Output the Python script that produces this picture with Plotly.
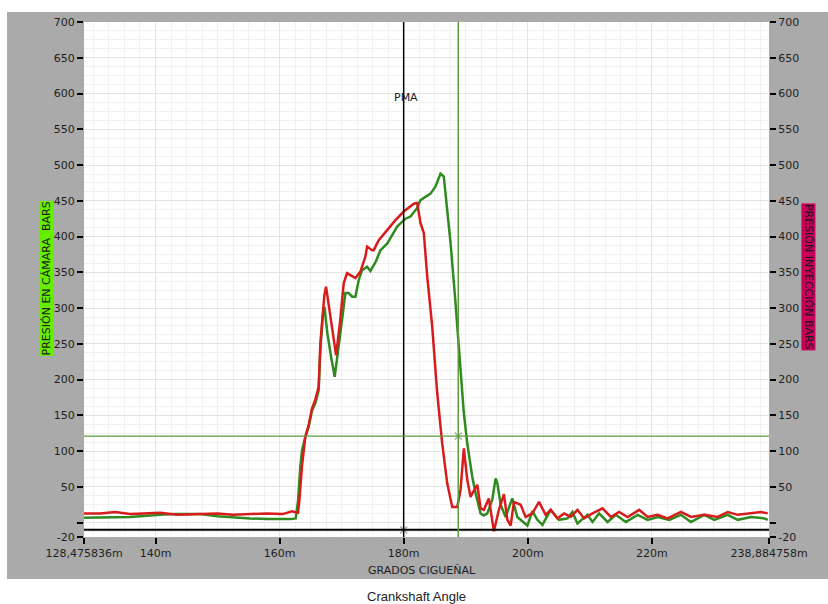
import plotly.graph_objects as go

# ---------------- data (x in "m" units of crank angle, y in bars) ----------------
red_x = [128.48, 131.06, 133.5, 135.90, 138.0, 140.74, 143.5, 147.20, 150.0, 152.5, 155.27, 158.0, 160.5, 162.0, 162.97,
         163.18, 163.62, 164.15, 164.68, 165.23, 165.76, 166.30, 166.57, 166.94, 167.22, 167.49, 168.00, 168.50, 169.11,
         169.80, 170.34, 170.88, 171.69, 172.22, 173.03, 173.83, 174.11, 174.92, 175.17, 175.98, 177.34, 178.68, 180.02,
         181.63, 182.18, 182.71, 183.25, 183.80, 184.60, 185.41, 186.21, 187.02, 187.83, 188.64, 189.17, 189.70, 190.25,
         190.78, 191.32, 191.87, 192.40, 192.93, 193.73, 194.54, 195.35, 196.16, 196.71, 197.24, 197.77, 198.32, 198.86,
         199.66, 200.75, 201.81, 202.89, 203.70, 204.78, 205.85, 206.93, 208.01, 209.08, 210.43, 212.05, 213.39, 214.73,
         216.09, 217.96, 219.32, 220.93, 222.55, 224.69, 226.31, 228.45, 230.62, 232.23, 233.85, 236.00, 237.61, 238.68]
red_y = [13, 13, 15, 12, 13, 14, 11, 12, 13, 11, 12, 13, 12, 16, 14,
         30, 80, 120, 136, 160, 172, 190, 250, 295, 318, 330, 300, 265, 234,
         285, 335, 349, 345, 342, 351, 372, 386, 381, 381, 395, 409, 423, 435,
         446, 447, 419, 405, 344, 274, 181, 111, 55, 22, 22, 46, 104, 60,
         36, 45, 53, 20, 18, 34, -12, 18, 40, 4, -4, 29, 27, 25,
         8, 13, 29, 11, 18, 6, 13, 8, 18, 6, 13, 20, 8, 15,
         8, 18, 8, 11, 6, 15, 8, 11, 8, 15, 11, 13, 15, 13]

green_x = [128.48, 131.06, 133.0, 135.90, 140.74, 143.0, 147.20, 150.0, 155.27, 158.0, 161.73, 162.60, 162.97,
           163.07, 163.34, 163.62, 164.15, 164.68, 165.23, 165.76, 166.30, 166.57, 166.94, 167.22, 167.70, 168.30,
           168.88, 169.80, 170.61, 171.14, 171.69, 172.22, 172.75, 173.30, 174.11, 174.64, 175.50, 176.26, 177.34,
           178.95, 180.29, 181.10, 182.18, 182.71, 184.33, 185.14, 185.94, 186.47, 186.75, 187.56, 188.36, 189.01,
           189.70, 190.25, 191.06, 191.60, 191.87, 192.40, 192.90, 193.48, 194.28, 194.82, 195.10, 195.63, 196.43,
           197.51, 198.32, 198.86, 199.94, 200.75, 201.55, 202.36, 203.70, 205.04, 206.40, 207.20, 208.01, 209.63,
           210.43, 211.50, 212.86, 214.20, 215.81, 217.70, 219.32, 220.93, 222.80, 224.69, 226.31, 228.45, 230.07,
           232.23, 233.85, 236.00, 238.14, 238.68]
green_y = [7, 7, 8, 8, 11, 12, 12, 9, 6, 5, 5, 6, 30,
           46, 78, 101, 120, 134, 157, 167, 185, 241, 288, 302, 265, 232,
           204, 265, 321, 321, 316, 316, 339, 353, 358, 352, 365, 381, 390,
           414, 425, 428, 440, 451, 460, 470, 488, 484, 461, 391, 307, 227,
           153, 111, 64, 41, 32, 13, 10, 13, 32, 62, 55, 25, 8,
           34, 8, 4, -4, 16, 4, -3, 18, 4, 6, 15, -1, 11,
           1, 13, 1, 11, 1, 11, 4, 8, 4, 11, 1, 11, 4,
           11, 4, 8, 6, 4]

x_range = [128.475836, 238.884758]
x_tickvals = [128.475836, 140, 160, 180, 200, 220, 238.884758]
x_ticktext = ["128,475836m", "140m", "160m", "180m", "200m", "220m", "238,884758m"]

y_range = [-20, 700]
y_tickvals = [-20, 0, 50, 100, 150, 200, 250, 300, 350, 400, 450, 500, 550, 600, 650, 700]
y_ticktext = ["-20", "", "50", "100", "150", "200", "250", "300", "350", "400", "450", "500",
              "550", "600", "650", "700"]

pma_x = 180.0          # black cursor (PMA)
pma_y = -10.0
cursor2_x = 188.8      # green cursor
cursor2_y = 121.0

# ---------------- figure ----------------
fig = go.Figure()

fig.add_trace(go.Scatter(x=green_x, y=green_y, mode="lines",
                         line=dict(color="#2f8a1f", width=2.5), showlegend=False, yaxis="y"))
fig.add_trace(go.Scatter(x=red_x, y=red_y, mode="lines",
                         line=dict(color="#d81c1c", width=2.5), showlegend=False, yaxis="y2"))

# cursors
fig.add_shape(type="line", xref="x", yref="paper", x0=pma_x, x1=pma_x, y0=0, y1=1,
              line=dict(color="black", width=1.5))
fig.add_shape(type="line", xref="paper", yref="y", x0=0, x1=1, y0=pma_y, y1=pma_y,
              line=dict(color="black", width=2))
fig.add_shape(type="line", xref="x", yref="paper", x0=cursor2_x, x1=cursor2_x, y0=0, y1=1,
              line=dict(color="#5c9c3c", width=1.5))
fig.add_shape(type="line", xref="paper", yref="y", x0=0, x1=1, y0=cursor2_y, y1=cursor2_y,
              line=dict(color="#5c9c3c", width=1.2))
fig.add_trace(go.Scatter(x=[pma_x, cursor2_x], y=[pma_y, cursor2_y], mode="markers",
                         marker=dict(symbol="x-thin-open", size=7, color="#b0b0b0",
                                     line=dict(color="#b0b0b0", width=1.5)),
                         showlegend=False, hoverinfo="skip"))

# background panel
fig.add_shape(type="rect", xref="paper", yref="paper", x0=-0.1124, x1=1.09, y0=-0.0816, y1=1.0194,
              fillcolor="#aaaaaa", line=dict(width=0), layer="below")
fig.add_shape(type="rect", xref="paper", yref="paper", x0=0, x1=1, y0=0, y1=1,
              fillcolor="white", line=dict(width=0), layer="below")

tickfont = dict(family="DejaVu Sans", size=11, color="#1e1e1e")
fig.update_layout(
    template="none",
    width=828, height=604, autosize=False,
    margin=dict(l=84, r=59, t=22, b=67, autoexpand=False),
    paper_bgcolor="white", plot_bgcolor="white",
    xaxis=dict(range=x_range, tickvals=x_tickvals, ticktext=x_ticktext, ticks="outside",
               ticklen=6, tickwidth=1.5, tickcolor="black", tickfont=tickfont, automargin=False,
               showgrid=True, gridcolor="#e4e4e4", gridwidth=1, zeroline=False, showline=False,
               minor=dict(dtick=2.5, tick0=0, showgrid=True, gridcolor="#f1f1f1", ticks="")),
    yaxis=dict(range=y_range, tickvals=y_tickvals, ticktext=y_ticktext, ticks="outside",
               ticklen=6, tickwidth=1.5, tickcolor="black", tickfont=tickfont, automargin=False,
               showgrid=True, gridcolor="#e4e4e4", gridwidth=1, zeroline=False, showline=False,
               minor=dict(dtick=12.5, tick0=0, showgrid=True, gridcolor="#f1f1f1", ticks="")),
    yaxis2=dict(range=y_range, tickvals=y_tickvals, ticktext=y_ticktext, ticks="outside",
                ticklen=6, tickwidth=1.5, tickcolor="black", tickfont=tickfont, automargin=False,
                overlaying="y", side="right", showgrid=False, zeroline=False, showline=False),
)

fig.add_annotation(text="PMA", x=pma_x + 0.3, y=595, xref="x", yref="y", showarrow=False,
                   font=dict(family="DejaVu Sans", size=11, color="#1a1a1a"))
fig.add_annotation(text="GRADOS CIGUEÑAL", x=0.4934, y=-0.0641, xref="paper", yref="paper",
                   showarrow=False, yanchor="middle",
                   font=dict(family="DejaVu Sans", size=11, color="#1e1e1e"))
fig.add_annotation(text="Crankshaft Angle", x=0.4847, y=-0.1165, xref="paper", yref="paper",
                   showarrow=False, yanchor="middle",
                   font=dict(family="Liberation Sans", size=13, color="#222222"))
fig.add_annotation(text="PRESIÓN EN CÁMARA  BARS", x=-0.0657, y=0.503, xref="paper", yref="paper",
                   showarrow=False, textangle=-90, bgcolor="#66ee00", borderpad=0,
                   font=dict(family="DejaVu Sans", size=11, color="#1a1a1a"))
fig.add_annotation(text="PRESIÓN INYECCIÓN BARS", x=1.0679, y=0.505, xref="paper", yref="paper",
                   showarrow=False, textangle=90, bgcolor="#c8005a", borderpad=0,
                   font=dict(family="DejaVu Sans", size=11, color="#1a1a1a"))

fig.write_html("out.html", config={"displayModeBar": False},
               post_script="document.body.style.margin='0';document.body.style.padding='0';")
